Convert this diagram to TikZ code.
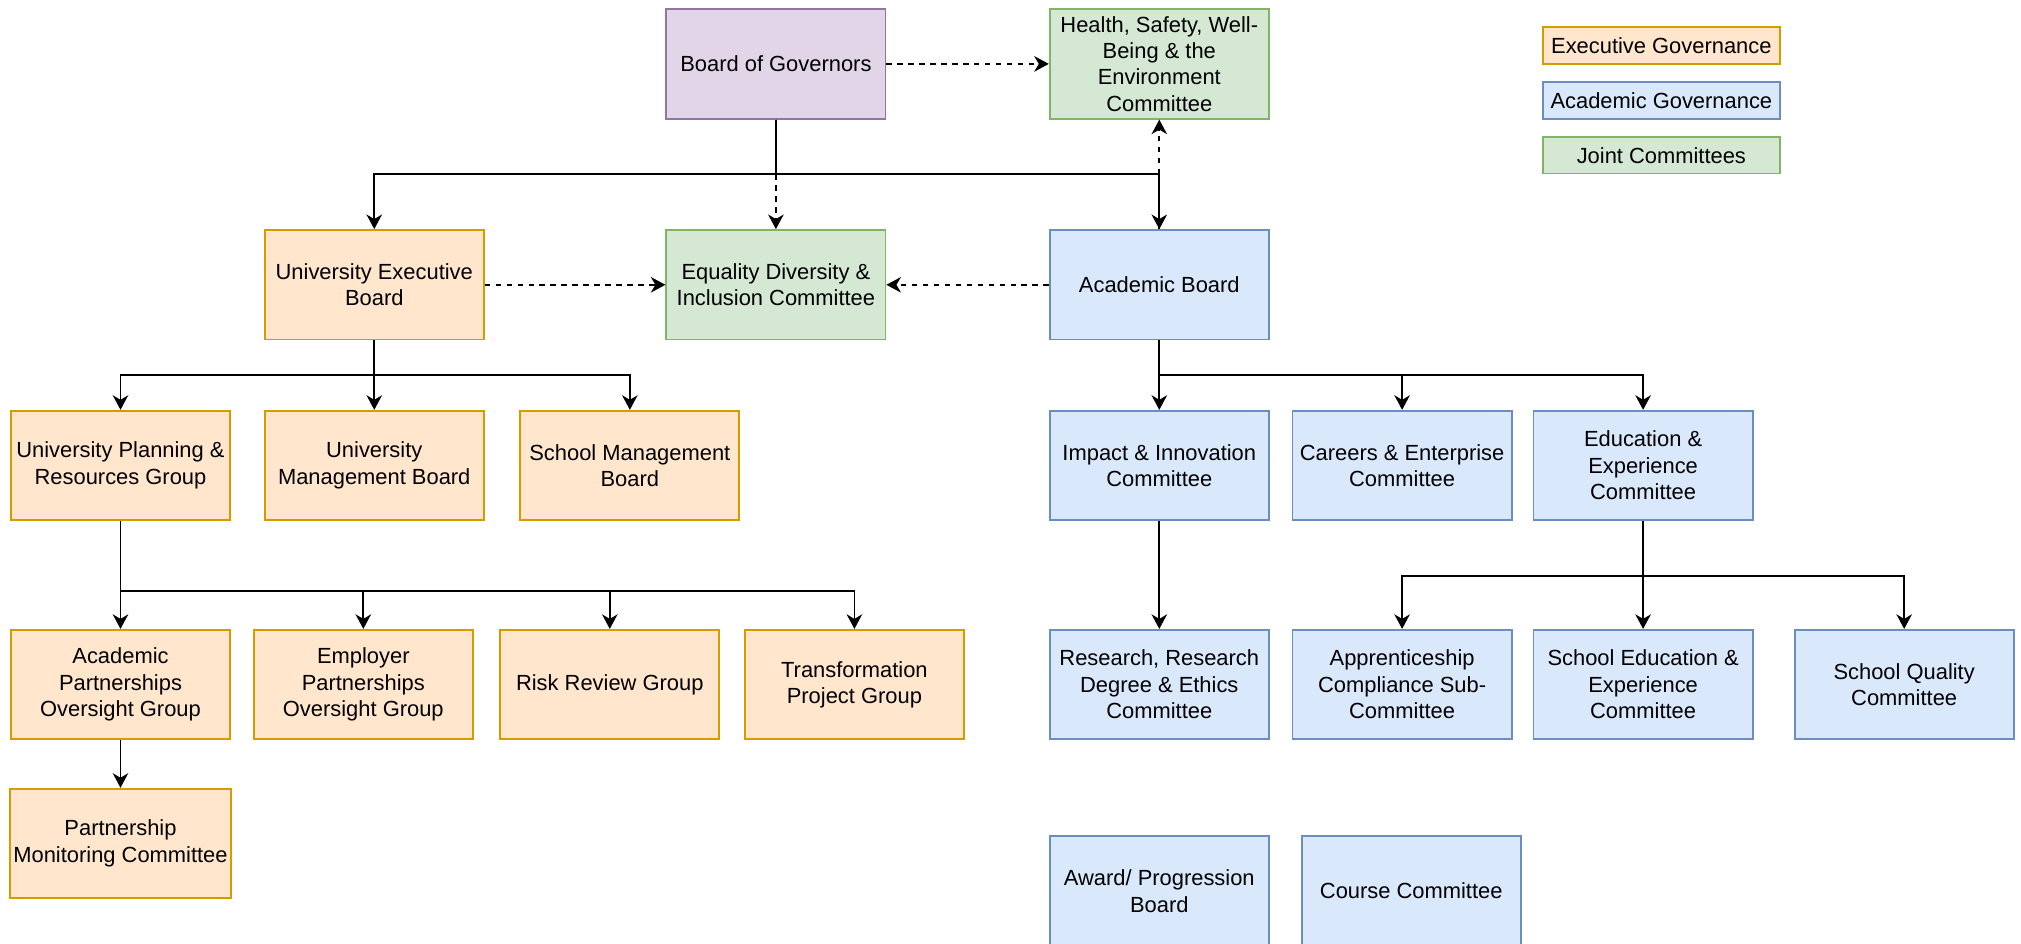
\documentclass[tikz,border=0pt]{standalone}
\usepackage{fontspec}
\setmainfont{Liberation Sans}
\usetikzlibrary{arrows.meta,positioning}
\definecolor{execfill}{HTML}{FFE6CC}
\definecolor{execline}{HTML}{D79B00}
\definecolor{acadfill}{HTML}{DAE8FC}
\definecolor{acadline}{HTML}{6C8EBF}
\definecolor{jointfill}{HTML}{D5E8D4}
\definecolor{jointline}{HTML}{82B366}
\definecolor{govfill}{HTML}{E1D5E7}
\definecolor{govline}{HTML}{9673A6}

\begin{document}
\begin{tikzpicture}[x=1pt, y=1pt, line width=1pt,
    box/.style={rectangle, draw, minimum width=120pt, minimum height=60pt,
      inner sep=2pt, align=center, font=\fontsize{12}{14.5}\selectfont},
    exec/.style={box, fill=execfill, draw=execline},
    acad/.style={box, fill=acadfill, draw=acadline},
    joint/.style={box, fill=jointfill, draw=jointline},
    gov/.style={box, fill=govfill, draw=govline},
    key/.style={minimum width=130pt, minimum height=20pt},
    soft/.style={->, dash pattern=on 3pt off 3pt},
    >={Stealth[length=8pt,width=8.5pt,inset=2.5pt]}]
  \useasboundingbox (0,0) rectangle (1107,-517);

  % top
  \node[gov] (bog) at (425,-35) {Board of Governors};
  \node[joint] (hse) at (635,-35) {Health, Safety, Well-\\Being \& the\\Environment\\Committee};
  \node[exec,key] (kexec) at (910,-25) {Executive Governance};
  \node[acad,key] (kacad) at (910,-55) {Academic Governance};
  \node[joint,key] (kjoint) at (910,-85) {Joint Committees};

  \node[exec] (ueb) at (205,-156) {University Executive\\Board};
  \node[joint] (edi) at (425,-156) {Equality Diversity \&\\Inclusion Committee};
  \node[acad] (acb) at (635,-156) {Academic Board};

  % executive side
  \node[exec,below=38pt of ueb] (umb) {University\\Management Board};
  \node[exec,left=18pt of umb] (uprg) {University Planning \&\\Resources Group};
  \node[exec,right=19pt of umb] (smb) {School Management\\Board};
  \node[exec,below=59pt of uprg] (apog) {Academic\\Partnerships\\Oversight Group};
  \node[exec] (epog) at (199,-375) {Employer\\Partnerships\\Oversight Group};
  \node[exec] (rrg) at (334,-375) {Risk Review Group};
  \node[exec] (tpg) at (468,-375) {Transformation\\Project Group};
  \node[exec,below=26pt of apog] (pmc) {Partnership\\Monitoring Committee};

  % academic side
  \node[acad,below=38pt of acb] (iic) {Impact \& Innovation\\Committee};
  \node[acad,right=12pt of iic] (cec) {Careers \& Enterprise\\Committee};
  \node[acad,right=11pt of cec] (eec) {Education \&\\Experience\\Committee};
  \node[acad,below=59pt of iic] (rrde) {Research, Research\\Degree \& Ethics\\Committee};
  \node[acad,below=59pt of eec] (seec) {School Education \&\\Experience\\Committee};
  \node[acad,left=11pt of seec] (acsc) {Apprenticeship\\Compliance Sub-\\Committee};
  \node[acad] (sqc) at (1043,-375) {School Quality\\Committee};
  \node[acad] (apb) at (635,-488) {Award/ Progression\\Board};
  \node[acad] (crc) at (773,-488) {Course Committee};

  % dashed links
  \draw[soft] (bog) -- (hse);
  \draw[soft] (bog) -- (edi);
  \draw[soft] (acb) -- (hse);
  \draw[soft] (ueb) -- (edi);
  \draw[soft] (acb) -- (edi);

  % reporting lines
  \draw[->] (bog.south) -- ++(0,-30) -| (ueb);
  \draw[->] (bog.south) -- ++(0,-30) -| (acb);
  \draw[->] (ueb.south) -- ++(0,-19) -| (uprg);
  \draw[->] (ueb) -- (umb);
  \draw[->] (ueb.south) -- ++(0,-19) -| (smb);
  \draw[->] (uprg) -- (apog);
  \draw[->] (uprg.south) -- ++(0,-38) -| (epog);
  \draw[->] (uprg.south) -- ++(0,-38) -| (rrg);
  \draw[->] (uprg.south) -- ++(0,-38) -| (tpg);
  \draw[->] (apog) -- (pmc);
  \draw[->] (acb) -- (iic);
  \draw[->] (acb.south) -- ++(0,-19) -| (cec);
  \draw[->] (acb.south) -- ++(0,-19) -| (eec);
  \draw[->] (iic) -- (rrde);
  \draw[->] (eec.south) -- ++(0,-30) -| (acsc);
  \draw[->] (eec) -- (seec);
  \draw[->] (eec.south) -- ++(0,-30) -| (sqc);
\end{tikzpicture}
\end{document}
